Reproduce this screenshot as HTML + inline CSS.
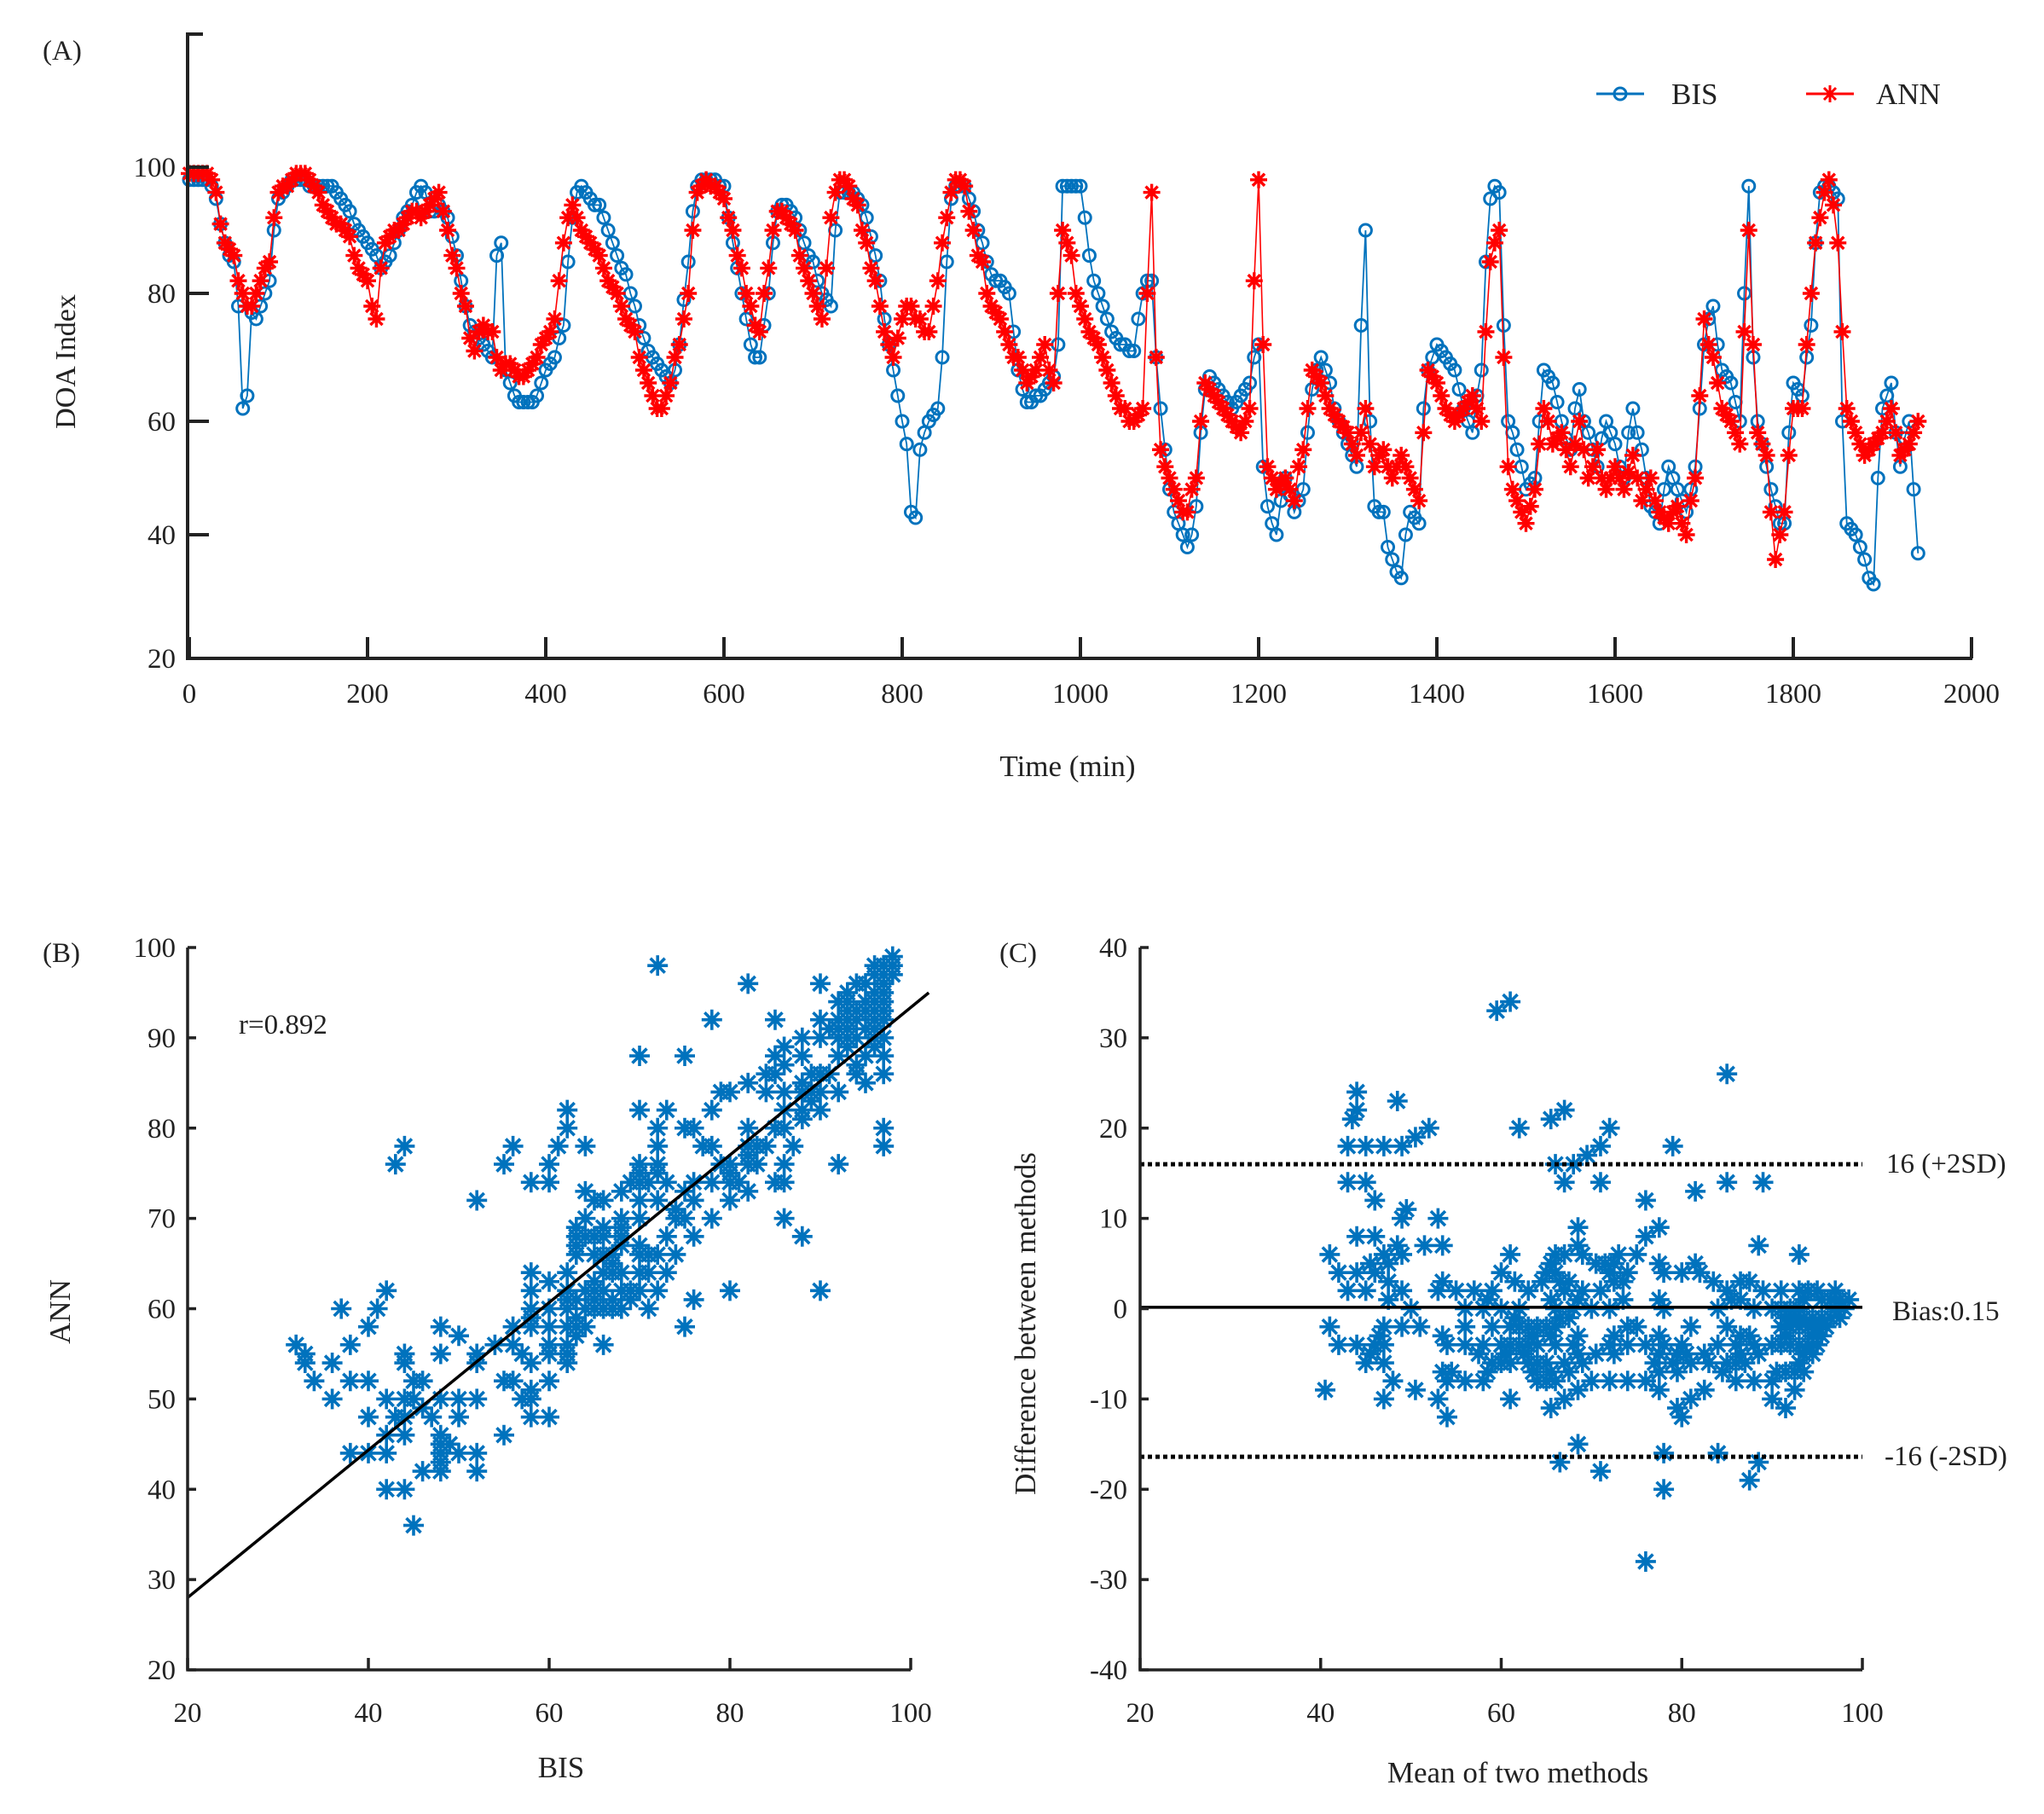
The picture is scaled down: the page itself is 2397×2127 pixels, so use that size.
<!DOCTYPE html>
<html><head><meta charset="utf-8"><title>DOA Index: BIS vs ANN</title>
<style>
html,body{margin:0;padding:0;background:#fff;}
svg{display:block;}
text{font-family:"Liberation Serif",serif;fill:#222;}
</style></head>
<body>
<svg id="fig" width="2397" height="2127" viewBox="0 0 2397 2127" xmlns="http://www.w3.org/2000/svg">
  <g id="panelA"></g>
  <g id="panelB"></g>
  <g id="panelC"></g>
</svg>
<script>
// ---- data: readings at t = 0,10,20,... and mid readings at t = 5,15,25,... ----
const timeStart = 0;
const timeStep = 10;
const bisValues = [
98,98,98,95,88,85,62,77,78,82,
95,97,98,98,97,97,97,95,93,90,
88,86,85,88,92,94,97,93,94,92,
86,78,74,72,70,88,66,63,63,64,
68,70,75,92,97,95,94,90,86,83,
78,73,70,68,66,72,85,97,98,98,
97,88,80,72,70,80,93,94,92,88,
85,80,78,96,96,95,92,86,76,68,
60,44,55,60,62,85,97,97,93,88,
83,82,80,68,63,64,65,67,97,97,
97,86,80,76,73,72,71,80,82,62,
48,42,38,45,65,66,64,62,64,66,
72,45,40,50,44,48,65,70,66,60,
56,52,90,45,44,36,33,44,42,68,
72,70,68,62,58,68,95,96,60,55,
48,50,68,66,60,55,65,58,52,60,
56,50,62,55,45,42,52,48,44,52,
72,78,68,66,60,97,60,52,45,42,
66,64,75,96,97,95,42,40,36,32,
62,66,52,60,37];
const annValues = [
99,99,99,96,88,86,80,78,82,85,
96,97,99,99,97,94,92,91,89,84,
82,76,88,90,91,93,92,94,96,90,
84,78,71,75,74,68,69,67,68,70,
73,76,88,94,90,88,86,82,80,76,
74,68,64,62,66,72,80,96,98,97,
95,90,84,78,74,84,93,92,90,84,
80,76,92,98,97,94,88,82,74,70,
76,78,76,74,82,92,98,97,90,85,
78,76,72,70,66,68,72,66,90,86,
78,74,72,68,64,62,60,62,96,55,
50,46,44,50,66,64,62,60,58,62,
98,52,48,50,46,55,68,66,62,60,
58,54,62,52,55,50,54,50,46,68,
66,62,60,62,64,60,85,90,52,46,
42,48,62,56,58,52,60,50,55,48,
52,48,54,46,50,44,42,45,40,50,
76,70,62,60,56,90,58,54,36,44,
62,62,80,92,98,88,62,58,54,56,
58,62,54,56,60];
const bisMidValues = [
98,98,97,91,86,78,64,76,80,90,
96,98,98,97,97,97,96,94,91,89,
87,84,86,90,93,96,96,93,93,89,
82,75,73,71,86,68,64,63,63,66,
69,73,85,96,96,94,92,88,84,80,
75,71,69,67,68,79,93,98,98,97,
92,84,76,70,75,88,94,93,90,86,
82,79,90,96,96,94,89,82,72,64,
56,43,58,61,70,95,97,95,90,85,
82,81,74,65,63,64,66,72,97,97,
92,82,78,74,72,71,76,82,70,55,
44,40,40,58,67,65,63,63,65,70,
52,42,46,47,46,58,68,68,62,58,
54,75,60,44,38,34,40,43,62,70,
71,69,65,60,64,85,97,75,58,52,
49,60,67,63,57,62,60,55,57,58,
52,58,58,50,44,48,50,46,48,62,
76,72,67,63,80,70,56,48,42,58,
65,70,88,97,96,60,41,38,33,50,
64,58,57,48];
const annMidValues = [
99,99,98,91,87,82,78,80,84,92,
97,98,99,98,96,93,91,90,86,83,
78,84,89,90,92,93,93,95,93,86,
80,73,74,74,70,69,68,67,69,72,
74,82,92,92,89,87,84,81,78,75,
70,66,62,64,70,76,90,97,97,96,
92,86,80,75,80,90,93,91,86,82,
78,84,96,98,95,90,84,78,72,73,
78,76,74,78,88,96,98,93,86,80,
77,74,70,68,67,70,68,80,88,80,
76,73,70,66,62,60,61,80,70,52,
48,44,48,60,65,63,61,59,60,82,
72,50,49,48,52,62,67,64,61,59,
56,58,56,54,52,52,52,48,58,67,
64,61,61,63,62,74,88,70,48,44,
45,56,60,57,55,56,55,52,50,50,
50,51,50,48,46,43,44,42,46,64,
72,66,61,58,74,72,56,44,40,54,
62,72,88,96,94,74,60,56,55,57,
60,58,55,58];
const xTicksA = [0,200,400,600,800,1000,1200,1400,1600,1800,2000];
const yTicksA = [20,40,60,80,100];
const xTicksB = [20,40,60,80,100];
const yTicksB = [20,30,40,50,60,70,80,90,100];
const xTicksC = [20,40,60,80,100];
const yTicksC = [-40,-30,-20,-10,0,10,20,30,40];
const regressionIntercept = 28;   // ANN at BIS=20
const regressionSlope = 0.817;
const regressionEnd = 102;
const biasValue = 0.15;
const upperLoA = 16;
const lowerLoA = -16.4;

const NS = "http://www.w3.org/2000/svg";
function mk(parent, tag, attrs, txt){
  const e = document.createElementNS(NS, tag);
  for (const k in attrs) e.setAttribute(k, attrs[k]);
  if (txt !== undefined) e.textContent = txt;
  parent.appendChild(e);
  return e;
}
function star(cx, cy, r){
  const d = r*0.7071;
  return `M${cx-r} ${cy}L${cx+r} ${cy}M${cx} ${cy-r}L${cx} ${cy+r}M${cx-d} ${cy-d}L${cx+d} ${cy+d}M${cx-d} ${cy+d}L${cx+d} ${cy-d}`;
}

// merge main + mid readings in time order
const times = [], bisAll = [], annAll = [];
bisValues.forEach((b,i)=>{
  times.push(timeStart + i*timeStep); bisAll.push(b); annAll.push(annValues[i]);
  if (i < bisMidValues.length){
    times.push(timeStart + i*timeStep + timeStep/2); bisAll.push(bisMidValues[i]); annAll.push(annMidValues[i]);
  }
});

// ---- Panel A ----
const A = document.getElementById('panelA');
const xA = t => 222 + (t - 0) * (2312 - 222) / 2000;
const yKnots = [[20,772],[40,627],[60,494],[80,344],[100,196]];
function yA(v){
  if (v <= 20) return 772 - (v-20)*(772-627)/20;
  for (let i=0;i<yKnots.length-1;i++){
    const [v0,p0]=yKnots[i],[v1,p1]=yKnots[i+1];
    if (v<=v1 || i===yKnots.length-2) return p0 + (v-v0)*(p1-p0)/(v1-v0);
  }
}

let bisLine = '', annLine = '', annStars = '';
times.forEach((t,i)=>{
  bisLine += (i?'L':'M') + xA(t).toFixed(1) + ' ' + yA(bisAll[i]).toFixed(1);
  annLine += (i?'L':'M') + xA(t).toFixed(1) + ' ' + yA(annAll[i]).toFixed(1);
  annStars += star(xA(t), yA(annAll[i]), 10);
});
const bl = mk(A,'path',{d:bisLine,fill:'none',stroke:'#0072BD','stroke-width':1.8});


const gB = mk(A,'g',{});


times.forEach((t,i)=>{
  const c = mk(gB,'circle',{cx:xA(t),cy:yA(bisAll[i]),r:7,fill:'none',stroke:'#0072BD','stroke-width':3});
  
  
});
const al = mk(A,'path',{d:annLine,fill:'none',stroke:'#FF0000','stroke-width':1.6});


const as = mk(A,'path',{d:annStars,fill:'none',stroke:'#FF0000','stroke-width':3.4});



// axes A
const axA = mk(A,'g',{stroke:'#222','stroke-width':4,fill:'none'});


mk(axA,'path',{d:`M238 40L220 40L220 772L2313 772`});
xTicksA.forEach(v=>{
  mk(axA,'line',{x1:xA(v),y1:772,x2:xA(v),y2:747});
  const t = mk(A,'text',{x:xA(v),y:824,'font-size':33,'text-anchor':'middle'},String(v));
  
  
});
yTicksA.forEach(v=>{
  mk(axA,'line',{x1:220,y1:yA(v),x2:245,y2:yA(v)});
  const t = mk(A,'text',{x:206,y:yA(v)+11,'font-size':33,'text-anchor':'end'},String(v));
  
  
});

// ---- Panel B ----
const B = document.getElementById('panelB');
const xB = v => 220 + (v-20)*(1068-220)/80;
const yB = v => 1958 - (v-20)*(1958-1111)/80;
let bStars = '';
bisAll.forEach((b,i)=>{ bStars += star(xB(b), yB(annAll[i]), 12); });
const bs = mk(B,'path',{d:bStars,fill:'none',stroke:'#0072BD','stroke-width':3.6});


const reg = mk(B,'line',{x1:xB(20),y1:yB(regressionIntercept),x2:xB(regressionEnd),y2:yB(regressionIntercept+regressionSlope*(regressionEnd-20)),stroke:'#000','stroke-width':3.5});


const axB = mk(B,'g',{stroke:'#222','stroke-width':3.5,fill:'none'});


mk(axB,'path',{d:`M220 1111L220 1958L1068 1958`});
xTicksB.forEach(v=>{
  mk(axB,'line',{x1:xB(v),y1:1958,x2:xB(v),y2:1944});
  const t = mk(B,'text',{x:xB(v),y:2019,'font-size':33,'text-anchor':'middle'},String(v));
  
  
});
yTicksB.forEach(v=>{
  mk(axB,'line',{x1:220,y1:yB(v),x2:230,y2:yB(v)});
  const t = mk(B,'text',{x:206,y:yB(v)+11,'font-size':33,'text-anchor':'end'},String(v));
  
  
});

// ---- Panel C ----
const C = document.getElementById('panelC');
const xC = v => 1337 + (v-20)*(2184-1337)/80;
const yC = v => 1111 + (40-v)*(1958-1111)/80;
let cStars = '';
bisAll.forEach((b,i)=>{
  const a = annAll[i];
  cStars += star(xC((a+b)/2), yC(a-b), 12);
});
const cs = mk(C,'path',{d:cStars,fill:'none',stroke:'#0072BD','stroke-width':3.6});


const up = mk(C,'line',{x1:xC(20),y1:yC(upperLoA),x2:xC(100),y2:yC(upperLoA),stroke:'#000','stroke-width':5,'stroke-dasharray':'5 4'});


const lo = mk(C,'line',{x1:xC(20),y1:yC(lowerLoA),x2:xC(100),y2:yC(lowerLoA),stroke:'#000','stroke-width':5,'stroke-dasharray':'5 4'});


const bi = mk(C,'line',{x1:xC(20),y1:yC(biasValue),x2:xC(100),y2:yC(biasValue),stroke:'#000','stroke-width':3.5});


const axC = mk(C,'g',{stroke:'#222','stroke-width':3.5,fill:'none'});


mk(axC,'path',{d:`M1337 1111L1337 1958L2184 1958`});
xTicksC.forEach(v=>{
  mk(axC,'line',{x1:xC(v),y1:1958,x2:xC(v),y2:1944});
  const t = mk(C,'text',{x:xC(v),y:2019,'font-size':33,'text-anchor':'middle'},String(v));
  
  
});
yTicksC.forEach(v=>{
  mk(axC,'line',{x1:1337,y1:yC(v),x2:1347,y2:yC(v)});
  const t = mk(C,'text',{x:1322,y:yC(v)+11,'font-size':33,'text-anchor':'end'},String(v));
  
  
});
</script>
<script>
// static labels
const S = document.getElementById('fig');
function lbl(name, attrs, txt){
  const e = document.createElementNS("http://www.w3.org/2000/svg",'text');
  for (const k in attrs) e.setAttribute(k, attrs[k]);
  e.textContent = txt;
  
  
  S.appendChild(e);
}
lbl('panel-a-label',{x:50,y:70,'font-size':33},'(A)');
lbl('panel-b-label',{x:50,y:1128,'font-size':33},'(B)');
lbl('panel-c-label',{x:1172,y:1128,'font-size':33},'(C)');
lbl('y-axis-title-a',{x:0,y:0,'font-size':34,'text-anchor':'middle',transform:'translate(88,424) rotate(-90)'},'DOA Index');
lbl('x-axis-title-a',{x:1252,y:910,'font-size':35,'text-anchor':'middle'},'Time (min)');
lbl('y-axis-title-b',{x:0,y:0,'font-size':35,'text-anchor':'middle',transform:'translate(82,1538) rotate(-90)'},'ANN');
lbl('x-axis-title-b',{x:658,y:2084,'font-size':35,'text-anchor':'middle'},'BIS');
lbl('y-axis-title-c',{x:0,y:0,'font-size':35,'text-anchor':'middle',transform:'translate(1214,1552) rotate(-90)'},'Difference between methods');
lbl('x-axis-title-c',{x:1780,y:2090,'font-size':35,'text-anchor':'middle'},'Mean of two methods');
lbl('r-value',{x:280,y:1212,'font-size':33},'r=0.892');
lbl('upper-limit-label',{x:2212,y:1375,'font-size':33},'16 (+2SD)');
lbl('bias-label',{x:2219,y:1548,'font-size':33},'Bias:0.15');
lbl('lower-limit-label',{x:2210,y:1718,'font-size':33},'-16 (-2SD)');
// legend
const NS2="http://www.w3.org/2000/svg";
const lg = document.createElementNS(NS2,'g');


S.appendChild(lg);
lg.innerHTML = '<line x1="1872" y1="110" x2="1928" y2="110" stroke="#0072BD" stroke-width="3"/>'+
 '<circle cx="1900" cy="110" r="7" fill="none" stroke="#0072BD" stroke-width="3"/>'+
 '<text x="1960" y="122" font-size="35">BIS</text>'+
 '<line x1="2118" y1="110" x2="2174" y2="110" stroke="#FF0000" stroke-width="3"/>'+
 '<path d="M2136 110L2156 110M2146 100L2146 120M2139 103L2153 117M2139 117L2153 103" stroke="#FF0000" stroke-width="3"/>'+
 '<text x="2200" y="122" font-size="35">ANN</text>';
</script>
</body></html>
